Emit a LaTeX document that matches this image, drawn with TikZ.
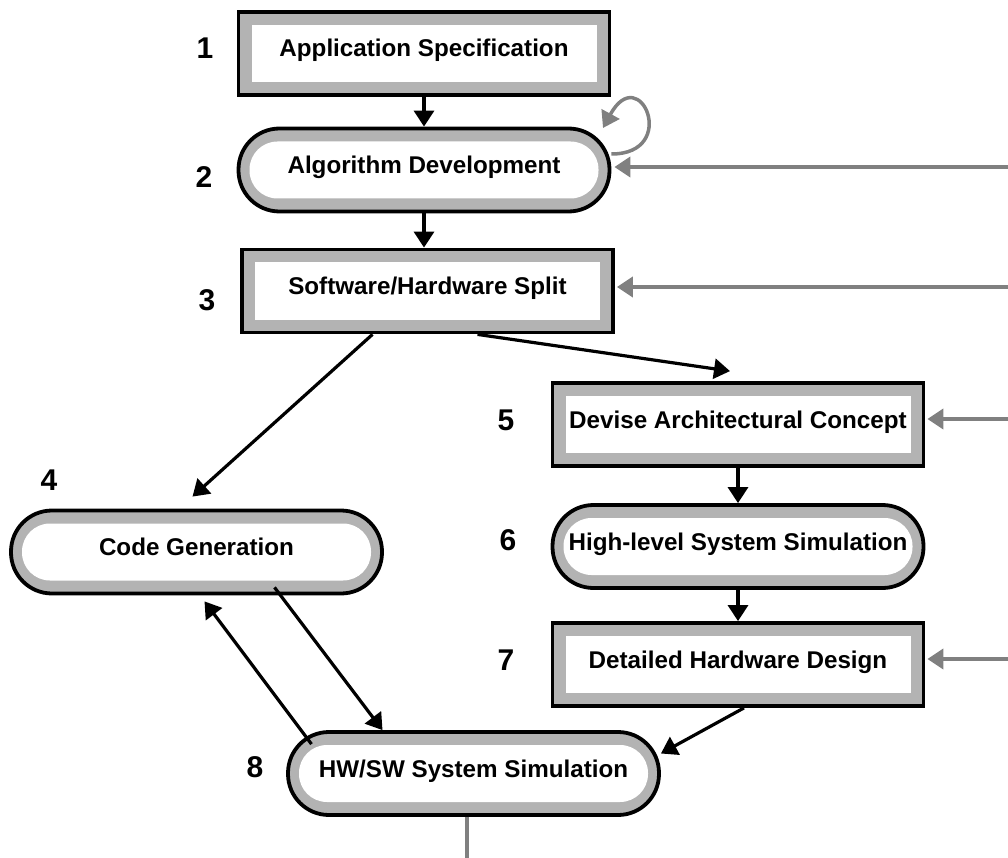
\documentclass[tikz,border=0pt]{standalone}
\usepackage{fontspec}
\setmainfont{Liberation Sans}
\usepackage{xcolor}
\usepackage{tikz}
\usetikzlibrary{arrows.meta, positioning, calc}

\definecolor{band}{HTML}{B3B3B3}
\definecolor{loopgray}{HTML}{808080}

\begin{document}
\begin{tikzpicture}[x=1pt, y=-1pt,
    stagebase/.style={draw=black, line width=3.8pt, fill=band,
        minimum width=371pt, minimum height=83pt, inner sep=0pt,
        font=\bfseries\fontsize{24.2}{28}\selectfont, text height=17pt, text depth=10pt},
    stagebox/.style={stagebase, rectangle,
        path picture={\fill[white] ([shift={(13pt,13pt)}]path picture bounding box.south west)
            rectangle ([shift={(-13pt,-13pt)}]path picture bounding box.north east);}},
    stageround/.style={stagebase, rectangle, rounded corners=41pt,
        path picture={\fill[white, rounded corners=28pt] ([shift={(11pt,13pt)}]path picture bounding box.south west)
            rectangle ([shift={(-11pt,-13pt)}]path picture bounding box.north east);}},
    stagenum/.style={font=\bfseries\fontsize{30}{34}\selectfont, inner sep=0pt},
    flow/.style={-{Triangle[length=16pt, width=20pt]}, line width=3.2pt, black},
    feedback/.style={-{Triangle[length=16pt, width=20pt]}, line width=4pt, loopgray}]

    % Page frame
    \useasboundingbox (0,0) rectangle (1008,858);

    % Stages
    \node[stagebox]   (spec)  at (424,53.5)  {Application Specification};
    \node[stageround] (algo)  at (424,170)   {Algorithm Development};
    \node[stagebox]   (split) at (427.5,291) {Software/Hardware Split};
    \node[stageround] (code)  at (196.5,552) {Code Generation};
    \node[stagebox]   (arch)  at (738,424.5) {Devise Architectural Concept};
    \node[stageround] (hlsim) at (738,546.5) {High-level System Simulation};
    \node[stagebox]   (hwdes) at (738,664.5) {Detailed Hardware Design};
    \node[stageround] (cosim) at (473.5,773.5) {HW/SW System Simulation};

    % Stage numbers
    \node[stagenum] (n1) at (205,48)  {1};
    \node[stagenum] (n2) at (204,177) {2};
    \node[stagenum] (n3) at (207,300) {3};
    \node[stagenum] (n4) at (49,480)  {4};
    \node[stagenum] (n5) at (506,420) {5};
    \node[stagenum] (n6) at (508,540) {6};
    \node[stagenum] (n7) at (506,660) {7};
    \node[stagenum] (n8) at (255,767) {8};

    % Main flow
    \draw[flow] (spec) -- (algo);
    \draw[flow] (algo.south) -- (algo.south |- split.north);
    \draw[flow] ([xshift=-55pt]split.south) -- ([xshift=-4pt,yshift=12pt]code.north);
    \draw[flow] ([xshift=50pt]split.south) -- ([xshift=-8pt,yshift=10pt]arch.north);
    \draw[flow] (arch) -- (hlsim);
    \draw[flow] (hlsim) -- (hwdes);
    \draw[flow] ([xshift=6pt]hwdes.south) -- ([yshift=20pt]cosim.east);
    \draw[flow] ([xshift=78pt,yshift=8pt]code.south) -- ([xshift=-91pt]cosim.north);
    \draw[flow] ([xshift=-162pt,yshift=-14pt]cosim.north) -- ([xshift=8pt,yshift=-6pt]code.south);

    % Feedback from the right edge
    \coordinate (r2) at (1008,167);
    \coordinate (r3) at (1008,287);
    \coordinate (r5) at (1008,419);
    \coordinate (r7) at (1008,659);
    \draw[feedback] (r2) -- ($(r2 -| algo.east)+(3,0)$);
    \draw[feedback] (r3) -- ($(r3 -| split.east)+(2,0)$);
    \draw[feedback] (r5) -- ($(r5 -| arch.east)+(2,0)$);
    \draw[feedback] (r7) -- ($(r7 -| hwdes.east)+(2,0)$);

    % Self loop on algorithm stage
    \coordinate (loopend) at (603,128);
    \draw[feedback, line width=3.5pt] ($(algo.east)+(0,-16)$) .. controls (680,154) and (640,60) .. (loopend);

    % Exit at the bottom
    \coordinate (b8) at (467,858);
    \draw[loopgray, line width=4pt] (b8 |- cosim.south) -- (b8);
\end{tikzpicture}
\end{document}
